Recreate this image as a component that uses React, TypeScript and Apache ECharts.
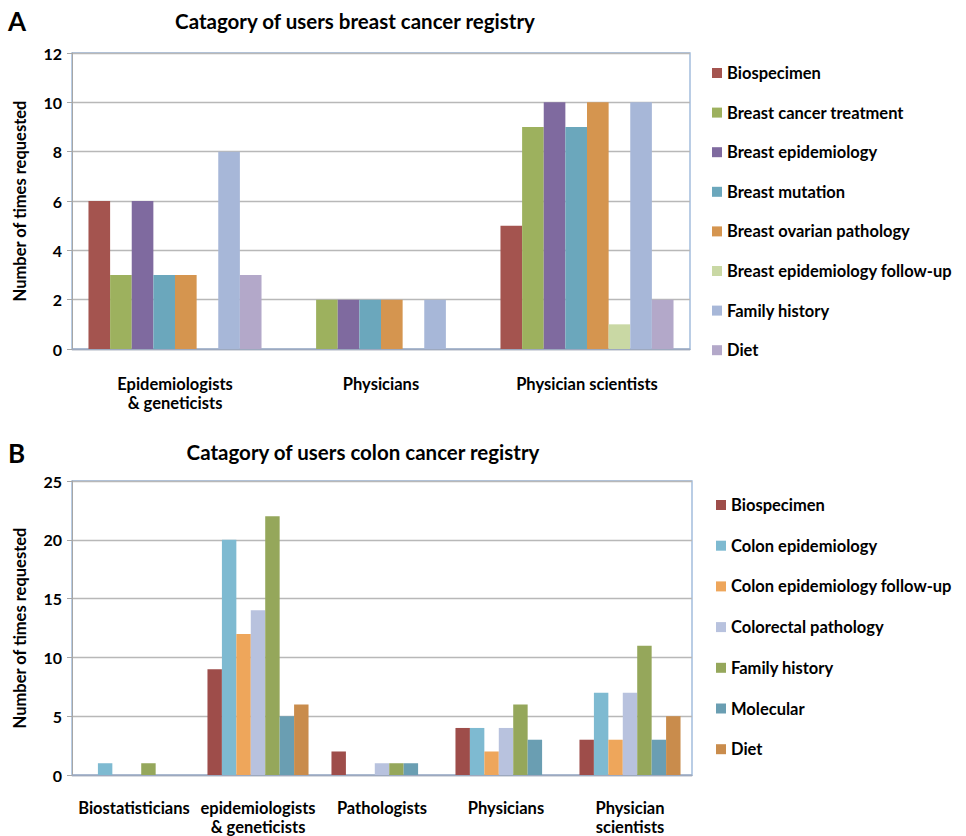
import React, { useEffect, useRef } from "react";
import * as echarts from "echarts";

// ---------- Chart A data ----------
const breastCategories = ["Epidemiologists\n& geneticists", "Physicians", "Physician scientists"];
const breastSeriesNames = [
  "Biospecimen",
  "Breast cancer treatment",
  "Breast epidemiology",
  "Breast mutation",
  "Breast ovarian pathology",
  "Breast epidemiology follow-up",
  "Family history",
  "Diet",
];
const breastBiospecimen = [6, 0, 5];
const breastTreatment = [3, 2, 9];
const breastEpidemiology = [6, 2, 10];
const breastMutation = [3, 2, 9];
const breastOvarianPathology = [3, 2, 10];
const breastEpiFollowUp = [0, 0, 1];
const breastFamilyHistory = [8, 2, 10];
const breastDiet = [3, 0, 2];
const breastValues = [
  breastBiospecimen,
  breastTreatment,
  breastEpidemiology,
  breastMutation,
  breastOvarianPathology,
  breastEpiFollowUp,
  breastFamilyHistory,
  breastDiet,
];
const breastColors = ["#A4544F", "#9DB15E", "#7F6A9F", "#6BA7BC", "#D5954F", "#C9D8A4", "#A7B7D8", "#B3A8C9"];

// ---------- Chart B data ----------
const colonCategories = [
  "Biostatisticians",
  "epidemiologists\n& geneticists",
  "Pathologists",
  "Physicians",
  "Physician\nscientists",
];
const colonSeriesNames = [
  "Biospecimen",
  "Colon epidemiology",
  "Colon epidemiology follow-up",
  "Colorectal pathology",
  "Family history",
  "Molecular",
  "Diet",
];
const colonBiospecimen = [0, 9, 2, 4, 3];
const colonEpidemiology = [1, 20, 0, 4, 7];
const colonEpiFollowUp = [0, 12, 0, 2, 3];
const colonColorectalPathology = [0, 14, 1, 4, 7];
const colonFamilyHistory = [1, 22, 1, 6, 11];
const colonMolecular = [0, 5, 1, 3, 3];
const colonDiet = [0, 6, 0, 0, 5];
const colonValues = [
  colonBiospecimen,
  colonEpidemiology,
  colonEpiFollowUp,
  colonColorectalPathology,
  colonFamilyHistory,
  colonMolecular,
  colonDiet,
];
const colonColors = ["#9E4D4A", "#7EBAD1", "#EEA65B", "#B8C2DE", "#95A75B", "#6A9EB2", "#C98C4C"];

const FONT = "Lato";

export default function App() {
  const ref = useRef<HTMLDivElement>(null);

  useEffect(() => {
    if (!ref.current) return;
    const chart = echarts.init(ref.current, null, { renderer: "svg" });

    const makeY = (gridIndex: number, max: number, interval: number) => ({
      type: "value" as const,
      gridIndex,
      min: 0,
      max,
      interval,
      name: "Number of times requested",
      nameLocation: "middle" as const,
      nameGap: 44,
      nameTextStyle: { color: "#000", fontFamily: FONT, fontWeight: "bold" as const, fontSize: 16.5 },
      axisLine: { show: true, lineStyle: { color: "#A6A6A6", width: 1 } },
      axisTick: { show: true, length: 5, lineStyle: { color: "#A6A6A6" } },
      axisLabel: { color: "#000", fontFamily: FONT, fontWeight: "bold" as const, fontSize: 16, margin: 10 },
      splitLine: { show: true, lineStyle: { color: "#B8B8B8", width: 1.3 } },
    });

    const makeX = (gridIndex: number, data: string[], margin: number) => ({
      type: "category" as const,
      gridIndex,
      data,
      axisLine: { show: true, lineStyle: { color: "#9DA9BF", width: 1.3 } },
      axisTick: { show: false },
      axisLabel: {
        color: "#000",
        fontFamily: FONT,
        fontWeight: "bold" as const,
        fontSize: 16.5,
        margin,
        lineHeight: 19,
        interval: 0,
      },
    });

    const series: any[] = [];
    breastSeriesNames.forEach((name, i) => {
      series.push({
        type: "bar",
        name,
        xAxisIndex: 0,
        yAxisIndex: 0,
        data: breastValues[i],
        itemStyle: { color: breastColors[i] },
        barGap: "0%",
        barCategoryGap: "16%",
      });
    });
    colonSeriesNames.forEach((name, i) => {
      series.push({
        type: "bar",
        name: name,
        id: "colon-" + i,
        xAxisIndex: 1,
        yAxisIndex: 1,
        data: colonValues[i],
        itemStyle: { color: colonColors[i] },
        barGap: "0%",
        barCategoryGap: "18.5%",
      });
    });

    const legendText = { color: "#000", fontFamily: FONT, fontWeight: "bold" as const, fontSize: 16.5, lineHeight: 18 };

    chart.setOption({
      animation: false,
      backgroundColor: "#fff",
      title: [
        { text: "A", left: 8, top: 8, padding: 0, textStyle: { fontFamily: FONT, fontWeight: "bold", fontSize: 26, color: "#000" } },
        {
          text: "Catagory of users breast cancer registry",
          left: 355,
          top: 10,
          padding: 0,
          textAlign: "center",
          textStyle: { fontFamily: FONT, fontWeight: "bold", fontSize: 20.5, color: "#000" },
        },
        { text: "B", left: 8, top: 440, padding: 0, textStyle: { fontFamily: FONT, fontWeight: "bold", fontSize: 26, color: "#000" } },
        {
          text: "Catagory of users colon cancer registry",
          left: 363,
          top: 441,
          padding: 0,
          textAlign: "center",
          textStyle: { fontFamily: FONT, fontWeight: "bold", fontSize: 20.5, color: "#000" },
        },
      ],
      legend: [
        {
          orient: "vertical",
          left: 712,
          top: 64,
          padding: 0,
          itemWidth: 10,
          itemHeight: 10,
          itemGap: 21.6,
          icon: "rect",
          selectedMode: false,
          textStyle: legendText,
          data: breastSeriesNames.map((n, i) => ({ name: n, itemStyle: { color: breastColors[i] } })),
        },
        {
          orient: "vertical",
          left: 716,
          top: 496,
          padding: 0,
          itemWidth: 10,
          itemHeight: 10,
          itemGap: 22.7,
          icon: "rect",
          selectedMode: false,
          textStyle: legendText,
          data: colonSeriesNames.map((n, i) => ({ name: n, itemStyle: { color: colonColors[i] } })),
        },
      ],
      grid: [
        { left: 72, top: 53, width: 618, height: 296, show: true, borderColor: "#95B3D7", borderWidth: 1.3, backgroundColor: "transparent" },
        { left: 72, top: 481, width: 620, height: 296, show: true, borderColor: "#95B3D7", borderWidth: 1.3, backgroundColor: "transparent" },
      ],
      xAxis: [makeX(0, breastCategories, 25), makeX(1, colonCategories, 23)],
      yAxis: [makeY(0, 12, 2), makeY(1, 25, 5)],
      series,
    });

    return () => chart.dispose();
  }, []);

  return (
    <div
      ref={ref}
      style={{ position: "fixed", left: 0, top: 0, width: 966, height: 836, background: "#fff" }}
    />
  );
}
